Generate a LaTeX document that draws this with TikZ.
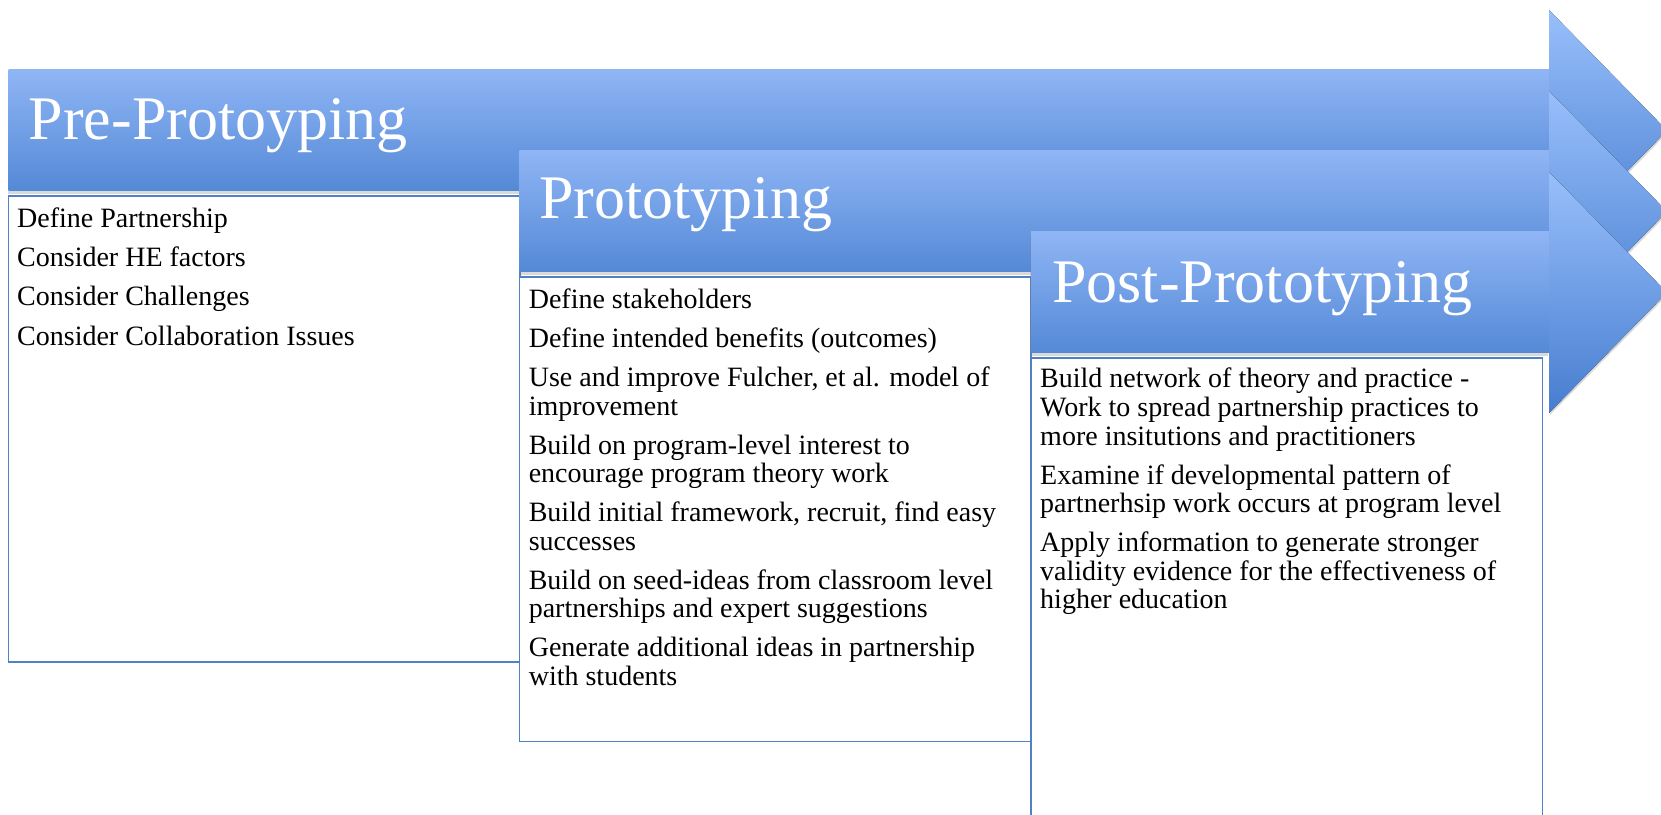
\documentclass[tikz,border=0pt]{standalone}
\usepackage{fontspec}
\setmainfont{Liberation Serif}
\usetikzlibrary{shadows}

\definecolor{bodytop}{HTML}{8FB5F5}
\definecolor{bodybot}{HTML}{5489D6}
\definecolor{headtop}{HTML}{98BFFB}
\definecolor{headbot}{HTML}{477DCF}
\definecolor{boxblue}{HTML}{4F81C4}

\tikzset{
  stagebody/.style={top color=bodytop, bottom color=bodybot,
    drop shadow={shadow xshift=-1pt, shadow yshift=-3pt, opacity=0.3}},
  stagehead/.style={top color=headtop, bottom color=headbot,
    drop shadow={shadow xshift=1pt, shadow yshift=-2pt, opacity=0.3}},
  itembox/.style={draw=boxblue, line width=1.8pt, fill=white},
  stagetitle/.style={anchor=base west, inner sep=0pt, text=white,
    font=\fontsize{62}{62}\selectfont},
  itemlist/.style={anchor=north west, inner sep=0pt, align=left,
    font=\fontsize{28}{28.6}\selectfont},
}

\begin{document}
\begin{tikzpicture}[x=1pt,y=1pt]
\useasboundingbox (0,0) rectangle (1661,814);
\clip (0,0) rectangle (1661,814);
\pgfmathsetmacro\headx{1549}
\pgfmathsetmacro\tipx{1667}
% the three stages, back to front: arrow, then its box
\foreach \ax/\at/\bb in {8.5/744/152, 519.5/663/72.5, 1031/582/-20}{
  \fill[stagebody] (\ax,\at) rectangle (\headx,\at-121);
  \fill[stagehead] (\headx,\at+60) -- (\tipx,\at-60.5) -- (\headx,\at-181) -- cycle;
  \draw[itembox] (\ax,\at-126) rectangle (\ax+511.5,\bb);
}
\node[stagetitle] (pre) at (28.6,674) {Pre-Protoyping};
\node[stagetitle] (proto) at (539,595) {Prototyping};
\node[stagetitle] (post) at (1052,511) {Post-Prototyping};
% lists hang from the top of their first line
\node[itemlist] (prelist) at (17,606.5) {Define Partnership\\[10.6pt]
  Consider HE factors\\[10.6pt]
  Consider Challenges\\[10.6pt]
  Consider Collaboration Issues};
\node[itemlist] (protolist) at (528.6,525.5) {Define stakeholders\\[10.4pt]
  Define intended benefits (outcomes)\\[10.4pt]
  Use and improve Fulcher, et al. model of\\ improvement\\[10.4pt]
  Build on program-level interest to\\ encourage program theory work\\[10.4pt]
  Build initial framework, recruit, find easy\\ successes\\[10.4pt]
  Build on seed-ideas from classroom level\\ partnerships and expert suggestions\\[10.4pt]
  Generate additional ideas in partnership\\ with students};
\node[itemlist] (postlist) at (1040,446) {Build network of theory and practice -\\
  Work to spread partnership practices to\\ more insitutions and practitioners\\[10.4pt]
  Examine if developmental pattern of\\ partnerhsip work occurs at program level\\[10.4pt]
  Apply information to generate stronger\\ validity evidence for the effectiveness of\\
  higher education};
\end{tikzpicture}
\end{document}
